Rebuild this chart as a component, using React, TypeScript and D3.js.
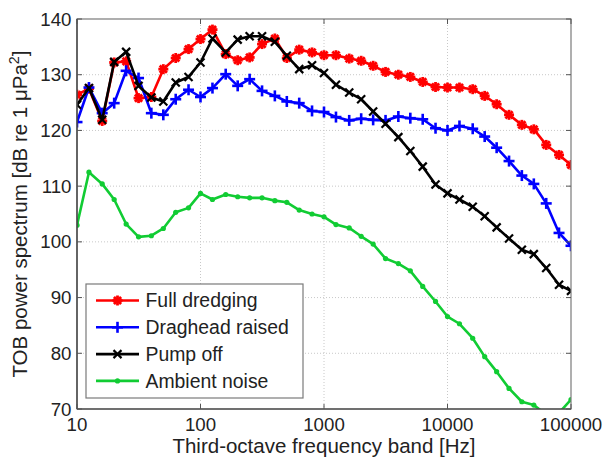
import React from "react";
import * as d3 from "d3";

const freqs = [10, 12.5, 16, 20, 25, 31.5, 40, 50, 63, 80, 100, 125, 160, 200, 250, 315, 400, 500, 630, 800, 1000, 1250, 1600, 2000, 2500, 3150, 4000, 5000, 6300, 8000, 10000, 12500, 16000, 20000, 25000, 31500, 40000, 50000, 63000, 80000, 100000];

const fullDredging = [126.4, 127.5, 121.7, 132.2, 132.4, 125.8, 126.0, 131.0, 133.0, 134.6, 136.4, 138.1, 133.7, 132.6, 133.1, 135.5, 136.5, 133.0, 134.5, 134.0, 133.5, 133.5, 132.9, 132.5, 131.6, 130.5, 130.0, 129.6, 128.7, 127.8, 127.7, 127.7, 127.4, 126.2, 124.7, 122.8, 121.0, 120.2, 117.4, 115.6, 113.8];
const dragheadRaised = [121.5, 127.7, 123.1, 124.9, 130.7, 129.4, 123.1, 122.8, 125.6, 127.3, 126.0, 127.6, 130.1, 128.0, 129.2, 127.1, 126.2, 125.2, 124.9, 123.5, 123.3, 122.4, 121.8, 122.1, 121.9, 121.8, 122.5, 122.2, 122.0, 120.4, 120.0, 120.8, 120.3, 118.9, 116.9, 114.5, 111.9, 110.4, 106.9, 101.6, 99.3];
const pumpOff = [124.6, 127.6, 121.9, 132.3, 134.1, 128.0, 125.9, 125.2, 128.6, 129.6, 132.2, 136.5, 134.0, 136.3, 136.9, 136.9, 135.9, 133.4, 131.0, 131.7, 130.3, 128.2, 126.8, 125.6, 123.4, 121.2, 118.8, 116.3, 113.5, 110.3, 108.7, 107.6, 106.3, 104.6, 102.6, 100.6, 98.6, 97.8, 95.3, 92.3, 91.2];
const ambientNoise = [103.0, 112.5, 110.4, 107.6, 103.2, 100.9, 101.1, 102.4, 105.3, 106.1, 108.7, 107.6, 108.5, 108.1, 107.9, 107.9, 107.4, 107.1, 105.7, 105.0, 104.5, 103.1, 102.5, 101.0, 99.6, 97.0, 96.1, 94.8, 92.0, 89.3, 86.6, 85.3, 82.7, 79.4, 76.7, 73.7, 71.3, 70.7, 69.0, 69.3, 71.7];

const xTicks = [10, 100, 1000, 10000, 100000];
const yTicks = [70, 80, 90, 100, 110, 120, 130, 140];

const seriesNames = ["Full dredging", "Draghead raised", "Pump off", "Ambient noise"];
const seriesColors = ["#ff0000", "#0000ff", "#000000", "#11cc33"];
const seriesMarkers = ["star", "plus", "cross", "dot"];
const seriesValues = [fullDredging, dragheadRaised, pumpOff, ambientNoise];

const W = 605, H = 459;
const L = 77, R = 571, T = 19, B = 409;
const FONT = "'Liberation Sans', Arial, Helvetica, sans-serif";
const FS = 18.7;
const FS_LEG = 19.4;
const FS_LAB = 20.5;

function Marker({ type, x, y, color }: { type: string; x: number; y: number; color: string }) {
  if (type === "dot") return <circle cx={x} cy={y} r={2.6} fill={color} />;
  if (type === "plus") {
    const s = 5.5;
    return (
      <g stroke={color} strokeWidth={2.6}>
        <line x1={x - s} y1={y} x2={x + s} y2={y} />
        <line x1={x} y1={y - s} x2={x} y2={y + s} />
      </g>
    );
  }
  if (type === "cross") {
    const s = 4;
    return (
      <g stroke={color} strokeWidth={2.2}>
        <line x1={x - s} y1={y - s} x2={x + s} y2={y + s} />
        <line x1={x - s} y1={y + s} x2={x + s} y2={y - s} />
      </g>
    );
  }
  const s = 5, d = 3.6;
  return (
    <g stroke={color} strokeWidth={2.8}>
      <line x1={x - s} y1={y} x2={x + s} y2={y} />
      <line x1={x} y1={y - s} x2={x} y2={y + s} />
      <line x1={x - d} y1={y - d} x2={x + d} y2={y + d} />
      <line x1={x - d} y1={y + d} x2={x + d} y2={y - d} />
    </g>
  );
}

export default function App() {
  const x = d3.scaleLog().domain([10, 100000]).range([L, R]);
  const y = d3.scaleLinear().domain([70, 140]).range([B, T]);
  const line = d3
    .line<number>()
    .x((_, i) => x(freqs[i]))
    .y((v) => y(v));

  const legX = 86, legY = 284, legW = 217, legH = 114;
  const rowY = (i: number) => 300.5 + i * 26.8;

  return (
    <svg
      width={W}
      height={H}
      style={{ position: "absolute", left: 0, top: 0, background: "#fff" }}
      fontFamily={FONT}
    >
      <defs>
        <clipPath id="plotclip">
          <rect x={L} y={T} width={R - L} height={B - T} />
        </clipPath>
      </defs>
      <rect x={0} y={0} width={W} height={H} fill="#fff" />
      {/* grid */}
      <g stroke="#c8c8c8" strokeWidth={1} strokeDasharray="1,2">
        {xTicks.slice(1, -1).map((t) => (
          <line key={"gx" + t} x1={x(t)} x2={x(t)} y1={T} y2={B} />
        ))}
        {yTicks.slice(1, -1).map((t) => (
          <line key={"gy" + t} x1={L} x2={R} y1={y(t)} y2={y(t)} />
        ))}
      </g>
      {/* series */}
      <g clipPath="url(#plotclip)">
        {seriesValues.map((vals, si) => (
          <g key={si}>
            <path d={line(vals) || ""} fill="none" stroke={seriesColors[si]} strokeWidth={2.6} strokeLinejoin="round" />
            {vals.map((v, i) => (
              <Marker key={i} type={seriesMarkers[si]} x={x(freqs[i])} y={y(v)} color={seriesColors[si]} />
            ))}
          </g>
        ))}
      </g>
      {/* axes box */}
      <rect x={L} y={T} width={R - L} height={B - T} fill="none" stroke="#7a7a7a" strokeWidth={1.2} />
      <line x1={L} x2={L} y1={T} y2={B} stroke="#333" strokeWidth={1.2} />
      <line x1={L} x2={R} y1={B} y2={B} stroke="#333" strokeWidth={1.2} />
      {/* ticks */}
      <g stroke="#555" strokeWidth={1}>
        {xTicks.map((t) => (
          <g key={"tx" + t}>
            <line x1={x(t)} x2={x(t)} y1={B} y2={B - 5} />
            <line x1={x(t)} x2={x(t)} y1={T} y2={T + 5} />
          </g>
        ))}
        {yTicks.map((t) => (
          <g key={"ty" + t}>
            <line x1={L} x2={L + 5} y1={y(t)} y2={y(t)} />
            <line x1={R} x2={R - 5} y1={y(t)} y2={y(t)} />
          </g>
        ))}
      </g>
      {/* tick labels */}
      <g fontSize={FS} fill="#222">
        {xTicks.map((t) => (
          <text key={"lx" + t} x={x(t)} y={431} textAnchor="middle">
            {String(t)}
          </text>
        ))}
        {yTicks.map((t) => (
          <text key={"ly" + t} x={71.5} y={y(t)} dy="0.35em" textAnchor="end">
            {String(t)}
          </text>
        ))}
      </g>
      {/* axis labels */}
      <text x={(L + R) / 2} y={453} textAnchor="middle" fontSize={FS_LAB} fill="#222">
        Third-octave frequency band [Hz]
      </text>
      <text transform={`translate(27,${(T + B) / 2}) rotate(-90)`} textAnchor="middle" fontSize={FS_LAB} fill="#222">
        TOB power spectrum [dB re 1 μPa
        <tspan fontSize={FS_LAB * 0.7} dy={-8}>2</tspan>
        <tspan dy={8}>]</tspan>
      </text>
      {/* legend */}
      <rect x={legX} y={legY} width={legW} height={legH} fill="#fff" stroke="#7a7a7a" strokeWidth={1.2} />
      {seriesNames.map((name, i) => (
        <g key={"leg" + i}>
          <line x1={96} x2={139} y1={rowY(i)} y2={rowY(i)} stroke={seriesColors[i]} strokeWidth={2.6} />
          <Marker type={seriesMarkers[i]} x={117.5} y={rowY(i)} color={seriesColors[i]} />
          <text x={145.5} y={rowY(i)} dy="0.35em" fontSize={FS_LEG} fill="#222">
            {name}
          </text>
        </g>
      ))}
    </svg>
  );
}
